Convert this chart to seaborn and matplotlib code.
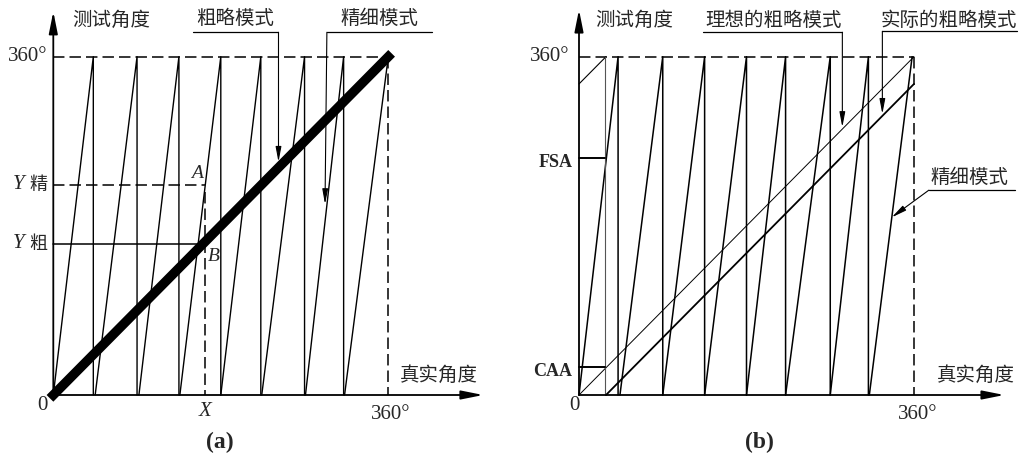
import matplotlib
matplotlib.use("Agg")
import matplotlib.pyplot as plt
import pandas as pd
import seaborn as sns

sns.set_theme(style="white")
plt.rcParams['font.family'] = ['Liberation Serif', 'Noto Sans CJK SC']

FULL_TURN = 360

# ---- panel (a): ideal resolver, coarse and fine channels ----
fine_a_start = [0, 45, 92, 136, 180, 224, 271, 313]
fine_a_end = [43, 90, 135, 180, 223, 270, 312, 360]
coarse_a_x = [0, 360]
coarse_a_y = [0, 360]
x_read = 163      # real angle X
y_fine = 224      # fine-channel reading (Y 精)
y_coarse = 161    # coarse-channel reading (Y 粗)

# ---- panel (b): coarse channel with an alignment error ----
fine_b_start = [0, 44, 90, 135, 180, 222, 270, 312]
fine_b_end = [42, 90, 135, 180, 222, 270, 311, 358]
ideal_b_x = [0, 360]
ideal_b_y = [0, 360]
coarse_err = 29   # shift of the actual coarse line
caa = 30          # CAA reading
fsa = 252         # FSA reading
marker_x = 28     # real angle where CAA / FSA are read

CJK = ['Noto Sans CJK SC']
SERIF = ['Liberation Serif']

KX = 360 / 335.0
KY = 360 / 338.3


def saw_frame(starts, ends, top):
    xs, ys, seg = [], [], []
    for i, (s, e) in enumerate(zip(starts, ends)):
        xs += [s, e]
        ys += [0, top]
        seg += [i, i]
        if i < len(starts) - 1:
            xs.append(e)
            ys.append(0)
            seg.append(i)
    return pd.DataFrame({"x": xs, "y": ys, "seg": seg})


def setup(ax, ox_px):
    ax.set_xlim(-ox_px * KX, (512 - ox_px) * KX)
    ax.set_ylim(-(453 - 395) * KY, 395 * KY)
    ax.axis('off')


def axes_arrows(ax, xend, ytop):
    style = '-|>,head_length=1.1,head_width=0.22'
    for tip in [(0, ytop), (xend, 0)]:
        ax.annotate('', xy=tip, xytext=(0, 0),
                    arrowprops=dict(arrowstyle=style, lw=1.3, color='black',
                                    mutation_scale=12, shrinkA=0, shrinkB=0))


def leader(ax, label, tx, ty, ux0, ux1, uy, start, tip, size=14):
    ax.text(tx, ty, label, family=CJK, fontsize=size, ha='center', va='center')
    ax.plot([ux0, ux1], [uy, uy], color='black', lw=0.9)
    ax.annotate('', xy=tip, xytext=start,
                arrowprops=dict(arrowstyle='-|>,head_length=0.9,head_width=0.17',
                                lw=0.8, color='black', mutation_scale=10,
                                shrinkA=0, shrinkB=0))


def dashed(ax, xs, ys):
    ax.plot(xs, ys, color='black', lw=1.1, dashes=(7.5, 3.3))


fig = plt.figure(figsize=(10.24, 4.53), dpi=100)
ax_a = fig.add_axes([0, 0, 0.5, 1])
ax_b = fig.add_axes([0.5, 0, 0.5, 1])
setup(ax_a, 53.3)
setup(ax_b, 67.0)

# ===================== panel (a) =====================
ax = ax_a
saw = saw_frame(fine_a_start, fine_a_end, FULL_TURN)
sns.lineplot(data=saw, x="x", y="y", units="seg", estimator=None, sort=False,
             color='black', lw=1.0, ax=ax, legend=False)
dashed(ax, [0, FULL_TURN], [FULL_TURN, FULL_TURN])
dashed(ax, [FULL_TURN, FULL_TURN], [FULL_TURN, 0])
dashed(ax, [0, x_read], [y_fine, y_fine])
dashed(ax, [x_read, x_read], [y_fine - 8, 0])
ax.plot([0, y_coarse], [y_coarse, y_coarse], color='black', lw=1.1)
sns.lineplot(x=coarse_a_x, y=coarse_a_y, color='black', lw=6.8, ax=ax,
             solid_capstyle='projecting')
axes_arrows(ax, 462, 408)

ax.text(62, 399, '测试角度', family=CJK, fontsize=14, ha='center', va='center')
ax.text(-6, FULL_TURN, '360°', family=SERIF, fontsize=15, ha='right', va='center')
for val, ch in [(y_fine, '精'), (y_coarse, '粗')]:
    ax.text(-37, val, 'Y', family=SERIF, style='italic', fontsize=15,
            ha='center', va='center')
    ax.text(-16, val, ch, family=CJK, fontsize=13, ha='center', va='center')
ax.text(-12, -11, '0', family=SERIF, fontsize=15, ha='center', va='center')
ax.text(x_read, -18, 'X', family=SERIF, style='italic', fontsize=15,
        ha='center', va='center')
ax.text(363, -21, '360°', family=SERIF, fontsize=15, ha='center', va='center')
ax.text(414, 21, '真实角度', family=CJK, fontsize=14, ha='center', va='center')
ax.text(179, -50, '(a)', family=SERIF, fontsize=17, weight='bold',
        ha='center', va='center')
ax.text(154, 236, 'A', family=SERIF, style='italic', fontsize=14,
        ha='center', va='center')
ax.text(172, 147, 'B', family=SERIF, style='italic', fontsize=14,
        ha='center', va='center')

leader(ax, '粗略模式', 195, 401, 150, 242, 386, (242, 386), (242, 248))
leader(ax, '精细模式', 351, 401, 294, 407, 386, (294, 386), (292, 203))

# ===================== panel (b) =====================
ax = ax_b
saw = saw_frame(fine_b_start, fine_b_end, FULL_TURN)
sns.lineplot(data=saw, x="x", y="y", units="seg", estimator=None, sort=False,
             color='black', lw=1.1, ax=ax, legend=False)
dashed(ax, [0, FULL_TURN], [FULL_TURN, FULL_TURN])
dashed(ax, [FULL_TURN, FULL_TURN], [FULL_TURN, 0])

# ideal coarse line (thin) and actual coarse line (shifted, with wrap-around)
sns.lineplot(x=ideal_b_x, y=ideal_b_y, color='black', lw=0.7, ax=ax)
sns.lineplot(x=[coarse_err, FULL_TURN], y=[0, FULL_TURN - coarse_err],
             color='black', lw=1.3, ax=ax)
sns.lineplot(x=[0, coarse_err], y=[FULL_TURN - coarse_err, FULL_TURN],
             color='black', lw=0.8, ax=ax)

ax.plot([marker_x, marker_x], [0, FULL_TURN], color='#555555', lw=0.8)
ax.plot([0, marker_x], [caa, caa], color='black', lw=1.4)
ax.plot([0, marker_x], [fsa, fsa], color='black', lw=1.4)
axes_arrows(ax, 457, 410)

ax.text(59, 399, '测试角度', family=CJK, fontsize=14, ha='center', va='center')
ax.text(-10, FULL_TURN, '360°', family=SERIF, fontsize=15, ha='right', va='center')
ax.text(-7, fsa - 5, 'FSA', family=SERIF, weight='bold', fontsize=13,
        ha='right', va='center')
ax.text(-7, caa - 5, 'CAA', family=SERIF, weight='bold', fontsize=13,
        ha='right', va='center')
ax.text(-5, -11, '0', family=SERIF, fontsize=15, ha='center', va='center')
ax.text(364, -21, '360°', family=SERIF, fontsize=15, ha='center', va='center')
ax.text(426, 21, '真实角度', family=CJK, fontsize=14, ha='center', va='center')
ax.text(194, -50, '(b)', family=SERIF, fontsize=17, weight='bold',
        ha='center', va='center')

leader(ax, '理想的粗略模式', 209, 399, 133, 283, 386, (283, 386), (283, 285))
leader(ax, '实际的粗略模式', 398, 399, 326, 471, 387, (326, 387), (326, 299))
leader(ax, '精细模式', 420, 232, 376, 469, 218, (376, 218), (336, 189))

fig.savefig('out.png', dpi=100, facecolor='white')
